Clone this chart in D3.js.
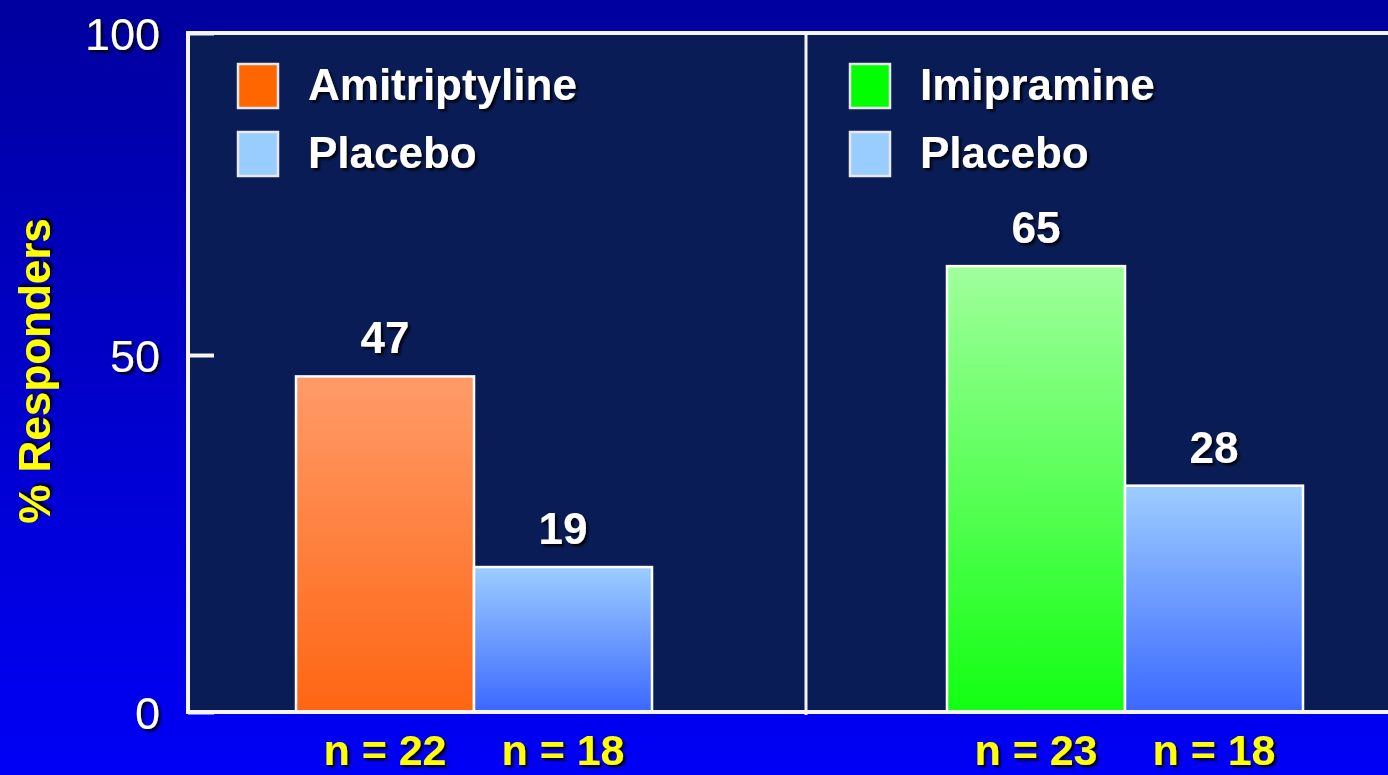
<!DOCTYPE html>
<html>
<head>
<meta charset="utf-8">
<script src="https://cdn.jsdelivr.net/npm/d3@7"></script>
<style>
  html, body { margin: 0; padding: 0; background: #0000c0; overflow: hidden; }
  svg { display: block; }
  text { font-family: "Liberation Sans", Arial, sans-serif; }
</style>
</head>
<body>
<svg id="chart" width="1388" height="775"></svg>
<script>
// ---- data ----
const studies = ["Amitriptyline", "Imipramine"];
const seriesKeys = ["drug", "placebo"];
const drugValues = [47, 63.8];        // bar heights
const placeboValues = [20.3, 31.7];
const drugLabels = ["47", "65"];      // printed value labels
const placeboLabels = ["19", "28"];
const drugN = ["n = 22", "n = 23"];
const placeboN = ["n = 18", "n = 18"];
const yTicks = [0, 50, 100];
const legendNames = [["Amitriptyline", "Placebo"], ["Imipramine", "Placebo"]];

const W = 1388, H = 775;
const svg = d3.select("#chart");
const defs = svg.append("defs");

function vgrad(id, top, bottom) {
  const g = defs.append("linearGradient").attr("id", id)
    .attr("x1", 0).attr("y1", 0).attr("x2", 0).attr("y2", 1);
  g.append("stop").attr("offset", "0%").attr("stop-color", top);
  g.append("stop").attr("offset", "100%").attr("stop-color", bottom);
}
vgrad("bgGrad", "#00009e", "#0000f6");
vgrad("orangeGrad", "#ff9b69", "#ff6512");
vgrad("greenGrad", "#a0ff9c", "#12ff12");
vgrad("blueGrad", "#9dcdff", "#3b68ff");

const sh = defs.append("filter").attr("id", "shadow")
  .attr("x", "-20%").attr("y", "-20%").attr("width", "140%").attr("height", "140%");
sh.append("feDropShadow").attr("dx", 2.5).attr("dy", 2.5).attr("stdDeviation", 1)
  .attr("flood-color", "#000").attr("flood-opacity", 0.85);

// background
svg.append("rect").attr("width", W).attr("height", H).attr("fill", "url(#bgGrad)");

// ---- scales ----
const y = d3.scaleLinear().domain(yTicks).range([712, 355, 33]);
const plotLeft = 188, plotTop = y(100), plotBottom = y(0), dividerX = 806;

const x0 = d3.scaleBand().domain(studies).range([148.5, 1450.5]);
const barW = 178;
const x1 = d3.scaleBand().domain(seriesKeys).range([0, 2 * barW]);
const barX = (study, key) => x0(study) + x0.bandwidth() / 2 - barW + x1(key);

// plot background
svg.append("rect").attr("x", plotLeft).attr("y", plotTop)
  .attr("width", 1450 - plotLeft).attr("height", plotBottom - plotTop)
  .attr("fill", "#0a1c56");

// ---- bars ----
const bars = [];
studies.forEach((s, i) => {
  bars.push({ study: s, key: "drug", value: drugValues[i], label: drugLabels[i], n: drugN[i],
              fill: i === 0 ? "url(#orangeGrad)" : "url(#greenGrad)" });
  bars.push({ study: s, key: "placebo", value: placeboValues[i], label: placeboLabels[i], n: placeboN[i],
              fill: "url(#blueGrad)" });
});

svg.append("g").selectAll("rect").data(bars).join("rect")
  .attr("x", d => barX(d.study, d.key))
  .attr("y", d => y(d.value))
  .attr("width", x1.bandwidth())
  .attr("height", d => y(0) - y(d.value))
  .attr("fill", d => d.fill)
  .attr("stroke", "#ffffff").attr("stroke-width", 2.5);

// value labels
svg.append("g").selectAll("text").data(bars).join("text")
  .attr("x", d => barX(d.study, d.key) + x1.bandwidth() / 2)
  .attr("y", d => y(d.value) - 23)
  .attr("text-anchor", "middle")
  .attr("font-size", 44).attr("font-weight", "bold")
  .attr("fill", "#ffffff").attr("filter", "url(#shadow)")
  .text(d => d.label);

// n labels
svg.append("g").selectAll("text").data(bars).join("text")
  .attr("x", d => barX(d.study, d.key) + x1.bandwidth() / 2)
  .attr("y", 765)
  .attr("text-anchor", "middle")
  .attr("font-size", 43).attr("font-weight", "bold")
  .attr("fill", "#ffff00").attr("filter", "url(#shadow)")
  .text(d => d.n);

// ---- frame lines ----
const frame = svg.append("g").attr("stroke", "#f4f4f4").attr("stroke-width", 4).attr("fill", "none");
frame.append("line").attr("x1", plotLeft).attr("x2", plotLeft).attr("y1", plotTop - 2).attr("y2", plotBottom + 2);
frame.append("line").attr("x1", plotLeft).attr("x2", 1450).attr("y1", plotTop).attr("y2", plotTop);
frame.append("line").attr("x1", plotLeft).attr("x2", 1450).attr("y1", plotBottom).attr("y2", plotBottom);
frame.append("line").attr("x1", dividerX).attr("x2", dividerX).attr("y1", plotTop).attr("y2", plotBottom + 3)
  .attr("stroke-width", 3);

// ---- y axis ----
const yAxis = d3.axisLeft(y).tickValues(yTicks).tickFormat(d3.format("d"))
  .tickSizeInner(-26).tickSizeOuter(0).tickPadding(28);
const ax = svg.append("g").attr("transform", `translate(${plotLeft},0)`).call(yAxis);
ax.select(".domain").remove();
ax.selectAll(".tick line").attr("stroke", "#f4f4f4").attr("stroke-width", 4);
ax.selectAll(".tick text")
  .attr("font-family", "'Liberation Sans', Arial, sans-serif")
  .attr("font-size", 45).attr("fill", "#ffffff")
  .attr("dy", "0.37em")
  .attr("filter", "url(#shadow)");

// y axis title
svg.append("text")
  .attr("transform", `translate(50, 371) rotate(-90)`)
  .attr("text-anchor", "middle")
  .attr("font-size", 44).attr("font-weight", "bold")
  .attr("fill", "#ffff00").attr("filter", "url(#shadow)")
  .text("% Responders");

// ---- legends ----
const legendColors = [["#ff6600", "#99ccff"], ["#00ff00", "#99ccff"]];
const legendX = [237, 849];
const legendRowY = [63, 131];
studies.forEach((s, i) => {
  const g = svg.append("g");
  legendNames[i].forEach((name, j) => {
    g.append("rect")
      .attr("x", legendX[i] + 1).attr("y", legendRowY[j] + 1)
      .attr("width", 40).attr("height", 44)
      .attr("fill", legendColors[i][j])
      .attr("stroke", "#e8e8e8").attr("stroke-width", 2.5);
    g.append("text")
      .attr("x", legendX[i] + 71).attr("y", legendRowY[j] + 37)
      .attr("font-size", 44).attr("font-weight", "bold")
      .attr("fill", "#ffffff").attr("filter", "url(#shadow)")
      .text(name);
  });
});
</script>
</body>
</html>
